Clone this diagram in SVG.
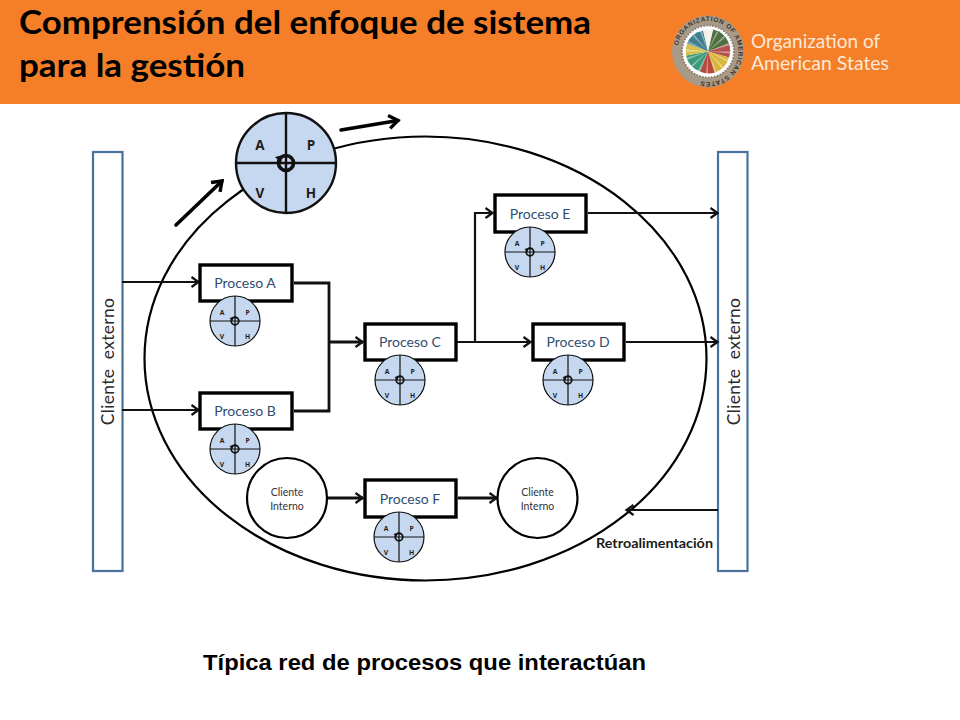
<svg xmlns="http://www.w3.org/2000/svg" xmlns:xlink="http://www.w3.org/1999/xlink" width="960" height="720" viewBox="0 0 960 720">
<style>
.title{font:700 33px Lato,"Open Sans","Liberation Sans",sans-serif;fill:#000}
.org{font:400 19px Lato,"Open Sans","Liberation Sans",sans-serif;fill:#fde9d8}
.bar{fill:#fff;stroke:#48729b;stroke-width:2.2}
.side{font:400 17.5px Lato,"Open Sans","Liberation Sans",sans-serif;fill:#2b2b2b;text-anchor:middle;white-space:pre;letter-spacing:.3px}
.box{fill:#fff;stroke:#000;stroke-width:3.4}
.plabel{font:400 14px Lato,"Open Sans","Liberation Sans",sans-serif;fill:#2f4d70;text-anchor:middle}
.ci{fill:#fff;stroke:#000;stroke-width:2.2}
.cilabel{font:400 10.5px Lato,"Open Sans","Liberation Sans",sans-serif;fill:#333;text-anchor:middle}
.c{fill:none;stroke:#111;stroke-width:2.200}
.t{stroke-width:2.800}
.a{marker-end:url(#arr)}
.big{fill:none;stroke:#000;stroke-width:3.6;stroke-linecap:round;marker-end:url(#arrb)}
.pl{font:700 13.500px "Open Sans","Liberation Sans",sans-serif;fill:#1c1c1c;text-anchor:middle}
.pdca-c{fill:#c6d8ef;stroke:#111;stroke-width:2.400}
.pdca-l{fill:none;stroke:#111;stroke-width:2.400}
</style>
<defs>
<marker id="arr" markerUnits="userSpaceOnUse" markerWidth="14" markerHeight="14" refX="10.5" refY="7" orient="auto"><path d="M3 2 L10 7 L3 12" fill="none" stroke="#111" stroke-width="2.200"/></marker>
<marker id="arrb" markerUnits="userSpaceOnUse" markerWidth="20" markerHeight="20" refX="15" refY="10" orient="auto"><path d="M6 3.500 L15 10 L6 16.500" fill="none" stroke="#000" stroke-width="3.400"/></marker>
<g id="pdca">
<circle class="pdca-c" r="50"/>
<path class="pdca-l" d="M0-50V50M-50 0H50"/>
<circle r="7.500" fill="none" stroke="#111" stroke-width="3.600"/>
<path d="M-11-6 L-3-8 L-5 0Z" fill="#111"/>
<text class="pl" x="-26" y="-13">A</text>
<text class="pl" x="25" y="-13">P</text>
<text class="pl" x="-26" y="35">V</text>
<text class="pl" x="25" y="35">H</text>
</g>
<path id="sealpath" d="M-30.500 0A30.500 30.500 0 1 1 30.500 0A30.500 30.500 0 1 1 -30.500 0"/>
</defs>
<rect width="960" height="720" fill="#fff"/>
<g id="header">
<rect width="960" height="104" fill="#f57f29"/>
<text class="title" x="19" y="34" textLength="572" lengthAdjust="spacingAndGlyphs">Comprensión del enfoque de sistema</text>
<text class="title" x="19" y="77" textLength="226" lengthAdjust="spacingAndGlyphs">para la gestión</text>
</g>
<g id="logo" transform="translate(708 51.500)">
<circle r="36" fill="#a89a88"/>
<circle r="26" fill="#fff"/>
<text font-family="Liberation Sans,sans-serif" font-size="6.500" font-weight="700" fill="#3e352b" letter-spacing=".7"><textPath xlink:href="#sealpath" href="#sealpath" startOffset="3%">ORGANIZATION OF AMERICAN STATES</textPath></text>
<path d="M0 0L-21-8A22 22 0 0 1-5-21Z" fill="#3f7f8f"/>
<path d="M0 0L5-22A22 22 0 0 1 21-8Z" fill="#4f6f3f"/>
<path d="M0 0L21-8A22 22 0 0 1 21 6Z" fill="#b4504f"/>
<path d="M0 0L21 6A22 22 0 0 1 7 21Z" fill="#d9b53c"/>
<path d="M0 0L7 21A22 22 0 0 1-8 20Z" fill="#b84a3c"/>
<path d="M0 0L-8 20A22 22 0 0 1-22 4Z" fill="#3c9a7a"/>
<path d="M0 0L-22 4A22 22 0 0 1-21-8Z" fill="#d8c24e"/>
<path d="M0 0L-5-22H5Z" fill="#f4f1e6"/>
<circle r="11" fill="none" stroke="#fff" stroke-opacity=".4" stroke-width="22" stroke-dasharray="1 3.300"/>
<circle r="26" fill="none" stroke="#8b7e70" stroke-width="2" stroke-dasharray="1.500 1.500"/>
</g>
<g id="org-name">
<text class="org" x="751" y="48">Organization of</text>
<text class="org" x="751" y="70" textLength="138" lengthAdjust="spacingAndGlyphs">American States</text>
</g>
<ellipse id="boundary" cx="425.500" cy="358.500" rx="281" ry="222" fill="none" stroke="#000" stroke-width="2.200"/>
<g id="cliente-externo-izq">
<rect class="bar" x="93" y="152" width="29.500" height="419"/>
<text class="side" transform="translate(114 361.500) rotate(-90)">Cliente  externo</text>
</g>
<g id="cliente-externo-der">
<rect class="bar" x="718" y="152" width="29.500" height="419"/>
<text class="side" transform="translate(739.500 361.500) rotate(-90)">Cliente  externo</text>
</g>
<g id="connectors">
<path class="c a" d="M122 282H199"/>
<path class="c a" d="M122 410H199"/>
<path class="c t" d="M294 283H329V411H294"/>
<path class="c t a" d="M329 342H363"/>
<path class="c a" d="M456 342H531"/>
<path class="c a" d="M475 342V213H493"/>
<path class="c a" d="M588 213H718"/>
<path class="c a" d="M626 342H718"/>
<path class="c t a" d="M327 498H363"/>
<path class="c t a" d="M458 498H497"/>
<path class="c a" d="M718 510H626"/>
<path class="big" d="M176 225L222 181"/>
<path class="big" d="M341 130L398 120.500"/>
</g>
<g id="pdca-main"><use href="#pdca" xlink:href="#pdca" transform="translate(286 163)"/></g>
<g id="proceso-a"><rect class="box" x="200" y="265" width="92" height="36"/><text class="plabel" x="245" y="288">Proceso A</text><use href="#pdca" xlink:href="#pdca" transform="translate(235 321) scale(.5)"/></g>
<g id="proceso-b"><rect class="box" x="200" y="393" width="92" height="36"/><text class="plabel" x="245" y="416">Proceso B</text><use href="#pdca" xlink:href="#pdca" transform="translate(235 449) scale(.5)"/></g>
<g id="proceso-c"><rect class="box" x="365" y="324" width="91" height="36"/><text class="plabel" x="410" y="347">Proceso C</text><use href="#pdca" xlink:href="#pdca" transform="translate(400 380) scale(.5)"/></g>
<g id="proceso-d"><rect class="box" x="533" y="324" width="91" height="36"/><text class="plabel" x="578" y="347">Proceso D</text><use href="#pdca" xlink:href="#pdca" transform="translate(568 380) scale(.5)"/></g>
<g id="proceso-e"><rect class="box" x="495" y="195" width="91" height="37"/><text class="plabel" x="540" y="219">Proceso E</text><use href="#pdca" xlink:href="#pdca" transform="translate(530 252) scale(.5)"/></g>
<g id="proceso-f"><rect class="box" x="365" y="480" width="91" height="37"/><text class="plabel" x="410" y="504">Proceso F</text><use href="#pdca" xlink:href="#pdca" transform="translate(399 537) scale(.5)"/></g>
<g id="cliente-interno-1"><circle class="ci" cx="287" cy="498" r="40"/><text class="cilabel" x="287" y="496">Cliente</text><text class="cilabel" x="287" y="510">Interno</text></g>
<g id="cliente-interno-2"><circle class="ci" cx="537.500" cy="498" r="40"/><text class="cilabel" x="537.500" y="496">Cliente</text><text class="cilabel" x="537.500" y="510">Interno</text></g>
<text id="retro" x="596" y="548" font-family="Lato,'Open Sans','Liberation Sans',sans-serif" font-size="12.500" font-weight="700" fill="#1a1a1a" textLength="117" lengthAdjust="spacingAndGlyphs">Retroalimentación</text>
<text id="caption" x="203" y="670" font-family="'Liberation Sans',Arial,sans-serif" font-size="21.500" font-weight="700" fill="#000" textLength="443" lengthAdjust="spacingAndGlyphs">Típica red de procesos que interactúan</text>
</svg>
